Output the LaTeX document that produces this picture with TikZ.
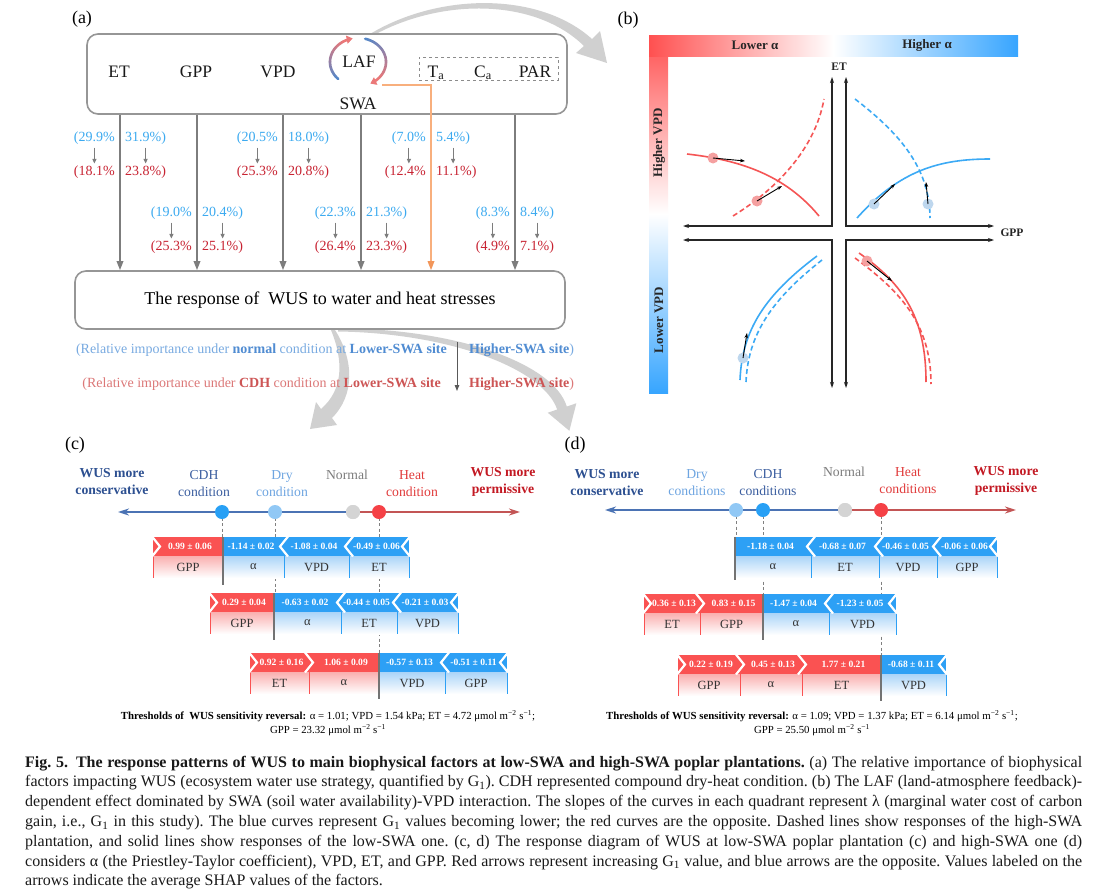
\documentclass[tikz,border=0pt]{standalone}
\usepackage{fontspec}
\setmainfont{Liberation Serif}
\usetikzlibrary{arrows.meta}
\definecolor{boxgray}{RGB}{150,150,150}
\definecolor{argray}{RGB}{125,125,125}
\definecolor{pctblue}{RGB}{60,170,240}
\definecolor{pctred}{RGB}{200,35,50}
\definecolor{legblue}{RGB}{120,170,225}
\definecolor{legblueb}{RGB}{80,140,210}
\definecolor{legred}{RGB}{220,120,120}
\definecolor{legredb}{RGB}{205,85,85}
\definecolor{orline}{RGB}{248,175,125}
\definecolor{orarrow}{RGB}{242,150,90}
\definecolor{biggray}{RGB}{208,208,208}
\definecolor{segred}{RGB}{250,82,82}
\definecolor{segblue}{RGB}{45,160,245}
\definecolor{segredl}{RGB}{250,175,175}
\definecolor{segbluel}{RGB}{170,212,248}
\definecolor{consblue}{RGB}{45,80,145}
\definecolor{cdhblue}{RGB}{60,95,160}
\definecolor{drycol}{RGB}{110,165,225}
\definecolor{normgray}{RGB}{125,125,125}
\definecolor{heatred}{RGB}{225,60,60}
\definecolor{permred}{RGB}{195,25,35}
\definecolor{axblue}{RGB}{75,115,180}
\definecolor{axred}{RGB}{195,85,85}
\definecolor{dotcdh}{RGB}{40,160,245}
\definecolor{dotdry}{RGB}{145,200,245}
\definecolor{dotnorm}{RGB}{212,212,212}
\definecolor{dotheat}{RGB}{245,65,70}
\definecolor{bred}{RGB}{245,85,85}
\definecolor{bblue}{RGB}{60,170,245}
\definecolor{bpink}{RGB}{245,160,160}
\definecolor{bltblue}{RGB}{190,215,238}
\definecolor{barred}{RGB}{255,80,80}
\definecolor{barblue}{RGB}{55,165,255}
\definecolor{lafred}{RGB}{235,120,120}
\definecolor{lafblue}{RGB}{85,135,200}

\tikzset{
  bigbox/.style={draw=boxgray, line width=1.6pt, rounded corners=11pt},
  toptxt/.style={font=\fontsize{17.5}{20}\selectfont, inner sep=0pt, text=black!90},
  plabel/.style={font=\fontsize{18}{20}\selectfont, inner sep=0pt},
  varr/.style={draw=argray, line width=1.7pt, -{Triangle[length=9pt,width=6.5pt]}},
  pct/.style={font=\fontsize{14}{16}\selectfont, inner sep=0pt},
  pb/.style={pct, text=pctblue},
  pr/.style={pct, text=pctred},
  smallarr/.style={draw=argray, line width=0.9pt, -{Triangle[length=4.5pt,width=4pt]}, shorten <=3pt, shorten >=2pt},
  legb/.style={font=\fontsize{14}{16}\selectfont, inner sep=0pt, text=legblue},
  legr/.style={font=\fontsize{14}{16}\selectfont, inner sep=0pt, text=legred},
  cond/.style={font=\fontsize{13.7}{17}\selectfont, inner sep=0pt, align=center},
  valtxt/.style={font=\bfseries\fontsize{9.6}{12}\selectfont, text=white, inner sep=0pt},
  labtxt/.style={font=\fontsize{12.5}{14}\selectfont, text=black!80, inner sep=0pt},
  chev/.style={draw=white, line width=2.2pt},
  gline/.style={draw=black!55, line width=1.1pt},
  gdash/.style={draw=black!50, line width=0.9pt, dash pattern=on 3pt off 2.5pt},
  condax/.style={line width=2pt, -{Stealth[length=11pt,width=7pt]}},
  cdot/.style={circle, inner sep=0pt, minimum size=14pt},
  bax/.style={draw=black!85, line width=1.1pt, {Stealth[length=6pt,width=4pt]}-{Stealth[length=6pt,width=4pt]}},
  bcurve/.style={line width=1.6pt},
  bdsh/.style={line width=1.6pt, dash pattern=on 5pt off 3pt},
  bdot/.style={circle, inner sep=0pt, minimum size=11pt},
  barr/.style={draw=black, line width=0.9pt, -{Stealth[length=5pt,width=3.5pt]}},
  btxt/.style={font=\bfseries\fontsize{13}{15}\selectfont, inner sep=0pt, text=black!85},
  axtxt/.style={font=\bfseries\fontsize{11.5}{13}\selectfont, inner sep=0pt, text=black!85},
  thr/.style={font=\fontsize{10.8}{13}\selectfont, inner sep=0pt, anchor=base},
  captxt/.style={font=\frenchspacing\fontsize{16}{18}\selectfont, inner sep=0pt, anchor=base west, text=black!90},
  bigarr/.style={fill=biggray, draw=none},
}

\newcommand\pctgroup[7]{%
  \node[pb, anchor=east] (#1bl) at (#2-5,#3) {#4};
  \node[pb, anchor=west] (#1br) at (#2+5,#3) {#5};
  \node[pr, anchor=east] (#1rl) at (#2-5,#3+34) {#6};
  \node[pr, anchor=west] (#1rr) at (#2+5,#3+34) {#7};
  \draw[smallarr] (#1bl.south) -- (#1bl.south |- #1rl.north);
  \draw[smallarr] (#1br.south) -- (#1br.south |- #1rr.north);
}
% #8-like shift handled by colour: blue text nudged left, red text nudged right
\newcommand\wseg[7]{%
  \fill[seg#5] (#3,#2) rectangle (#4,#2+19);
  \shade[top color=seg#5l, bottom color=white] (#3,#2+19) rectangle (#4,#2+41);
  \draw[seg#5, line width=0.9pt] (#3,#2+19) -- (#3,#2+41) (#4,#2+19) -- (#4,#2+41);
  \node[valtxt] (#1v) at ({(#3+#4)/2+\csname shift#5\endcsname},#2+9.5) {#6};
  \node[labtxt] (#1l) at ({(#3+#4)/2},#2+30) {#7};
}
\newcommand\shiftred{2}
\newcommand\shiftblue{-2.5}
\newcommand\wchevL[2]{\draw[chev] (#1+4,#2-0.5) -- (#1-4,#2+9.5) -- (#1+4,#2+19.5);}
\newcommand\wchevR[2]{\draw[chev] (#1-4,#2-0.5) -- (#1+4,#2+9.5) -- (#1-4,#2+19.5);}

\begin{document}
\begin{tikzpicture}[x=1pt,y=-1pt]
\useasboundingbox (0,0) rectangle (1108,894);
\fill[white] (0,0) rectangle (1108,894);

% ---------- big gray curved arrows ----------
\fill[bigarr] (370,34) .. controls (440,-8) and (540,-8) .. (592,39) -- (600,31) -- (607,63) -- (576,53) -- (584,46) .. controls (535,-2) and (442,-2) .. (374,35) -- cycle;
\fill[bigarr] (335,330) .. controls (354,360) and (355,395) .. (332,418) -- (337,425) -- (310,429) -- (316,402) -- (321,409) .. controls (343,390) and (344,362) .. (331,330) -- cycle;
\fill[bigarr] (338,328.5) .. controls (452,328) and (553,362) .. (566.8,406.5) -- (576.3,403.3) -- (569.4,430.8) -- (547.7,412.7) -- (557.2,409.5) .. controls (543,368) and (448,333) .. (338,331.5) -- cycle;

% ---------- panel (a) ----------
\node[plabel] (la) at (82,19) {(a)};
\node[bigbox, minimum width=480pt, minimum height=80pt, inner sep=0pt] (topbox) at (327,74) {};
\node[toptxt, anchor=base] (tET) at (119,77) {ET};
\node[toptxt, anchor=base] (tGPP) at (196,77) {GPP};
\node[toptxt, anchor=base] (tVPD) at (278,77) {VPD};
\node[toptxt, anchor=base] (tLAF) at (359,67) {LAF};
\node[toptxt, anchor=base] (tSWA) at (358,109) {SWA};
\node[draw=black!45, dashed, line width=0.8pt, minimum width=139pt, minimum height=23pt, inner sep=0pt] (envbox) at (488.5,68.5) {};
\node[toptxt, anchor=base] (tTa) at (436,77) {T\textsubscript{a}};
\node[toptxt, anchor=base] (tCa) at (483,77) {C\textsubscript{a}};
\node[toptxt, anchor=base] (tPAR) at (535,77) {PAR};

% LAF cycle
\foreach \k in {0,...,13}{
  \pgfmathsetmacro\aa{225-110*\k/14}
  \pgfmathsetmacro\bb{225-110*(\k+1)/14}
  \pgfmathsetmacro\pp{100*\k/13}
  \draw[lafred!\pp!lafblue, line width=2.6pt, line cap=round] plot[domain=\aa:\bb, samples=4] ({358+28*cos(\x)},{62-24*sin(\x)});
}
\draw[lafred, line width=2.6pt, -{Triangle[length=6pt,width=8pt]}] plot[domain=115:101, samples=4] ({358+28*cos(\x)},{62-24*sin(\x)});
\foreach \k in {0,...,13}{
  \pgfmathsetmacro\aa{75-125*\k/14}
  \pgfmathsetmacro\bb{75-125*(\k+1)/14}
  \pgfmathsetmacro\pp{100*\k/13}
  \draw[lafred!\pp!lafblue, line width=2.6pt, line cap=round] plot[domain=\aa:\bb, samples=4] ({358+28*cos(\x)},{62-24*sin(\x)});
}
\draw[lafred, line width=2.6pt, -{Triangle[length=6pt,width=8pt]}] plot[domain=-50:-64, samples=4] ({358+28*cos(\x)},{62-24*sin(\x)});

\node[bigbox, minimum width=490pt, minimum height=58pt, inner sep=0pt, font=\fontsize{18}{20}\selectfont] (resp) at (320,300) {The response of\ \ WUS to water and heat stresses};

\coordinate (vx1) at (120,0);
\coordinate (vx2) at (197,0);
\coordinate (vx3) at (283,0);
\coordinate (vx4) at (361,0);
\coordinate (vx5) at (515,0);
\foreach \v in {vx1,vx2,vx3,vx4,vx5}{
  \draw[varr] (topbox.south -| \v) -- (resp.north -| \v);
}
\coordinate (swaout) at (382,85);
\coordinate (ox) at (431,0);
\draw[draw=orline, line width=1.6pt, -{Triangle[length=9pt,width=6.5pt,color=orarrow]}] (swaout) -- (swaout -| ox) -- (resp.north -| ox);

\pctgroup{ga}{120}{138}{(29.9\%}{31.9\%)}{(18.1\%}{23.8\%)}
\pctgroup{gc}{283}{138}{(20.5\%}{18.0\%)}{(25.3\%}{20.8\%)}
\pctgroup{ge}{431}{138}{(7.0\%}{5.4\%)}{(12.4\%}{11.1\%)}
\pctgroup{gb}{197}{213}{(19.0\%}{20.4\%)}{(25.3\%}{25.1\%)}
\pctgroup{gd}{361}{213}{(22.3\%}{21.3\%)}{(26.4\%}{23.3\%)}
\pctgroup{gf}{515}{213}{(8.3\%}{8.4\%)}{(4.9\%}{7.1\%)}

\node[legb, anchor=east] (lgb1) at (447,350) {(Relative importance under \textbf{\color{legblueb}normal} condition at \textbf{\color{legblueb}Lower-SWA site}};
\node[legb, anchor=west] (lgb2) at (469,350) {\textbf{\color{legblueb}Higher-SWA site})};
\node[legr, anchor=east] (lgr1) at (441,384) {(Relative importance under \textbf{\color{legredb}CDH} condition at \textbf{\color{legredb}Lower-SWA site}};
\node[legr, anchor=west] (lgr2) at (469,384) {\textbf{\color{legredb}Higher-SWA site})};
\coordinate (lgtop) at (457,342);
\coordinate (lgbot) at (457,391);
\draw[draw=black!65, line width=1pt, -{Triangle[length=6pt,width=4.5pt]}] (lgtop) -- (lgbot);

% ---------- panel (b) ----------
\node[plabel] (lb) at (628,20) {(b)};
\shade[top color=barred, bottom color=barblue, middle color=white] (649,35) rectangle (668,393);
\shade[left color=barred, right color=barblue, middle color=white] (649,35) rectangle (1018,56);
\node[btxt] (lowa) at (755,45) {Lower α};
\node[btxt] (higha) at (927,45) {Higher α};
\node[btxt, rotate=90] (hvpd) at (659,143) {Higher VPD};
\node[btxt, rotate=90] (lvpd) at (659,320) {Lower VPD};

\coordinate (q1a) at (832,77); \coordinate (q1b) at (832,226); \coordinate (q1c) at (683,226);
\coordinate (q2a) at (846,77); \coordinate (q2b) at (846,226); \coordinate (q2c) at (994,226);
\coordinate (q3a) at (683,240); \coordinate (q3b) at (832,240); \coordinate (q3c) at (832,388);
\coordinate (q4a) at (994,240); \coordinate (q4b) at (846,240); \coordinate (q4c) at (846,388);
\draw[bax] (q1a) -- (q1b) -- (q1c);
\draw[bax] (q2a) -- (q2b) -- (q2c);
\draw[bax] (q3a) -- (q3b) -- (q3c);
\draw[bax] (q4a) -- (q4b) -- (q4c);
\node[axtxt] (etax) at (839,67) {ET};
\node[axtxt] (gppax) at (1012,233) {GPP};

\draw[bcurve, bred] (687,154) .. controls (740,160) and (785,175) .. (819,216);
\draw[bdsh, bred] (733,216) .. controls (775,190) and (815,150) .. (824,99);
\draw[bdsh, bblue] (855,99) .. controls (895,130) and (930,165) .. (930,218);
\draw[bcurve, bblue] (857,218) .. controls (900,170) and (940,159) .. (990,159);
\draw[bcurve, bblue] (740,380) .. controls (742,330) and (765,295) .. (817,256);
\draw[bdsh, bblue] (746,382) .. controls (748,335) and (771,300) .. (822,260);
\draw[bcurve, bred] (859,253) .. controls (905,285) and (926,320) .. (926,382);
\draw[bdsh, bred] (855,258) .. controls (898,290) and (931,322) .. (931,384);

\node[bdot, fill=bpink] (bd1) at (713,158) {};
\node[bdot, fill=bpink] (bd2) at (757,201) {};
\node[bdot, fill=bltblue] (bd3) at (874,204) {};
\node[bdot, fill=bltblue] (bd4) at (928,204) {};
\node[bdot, fill=bltblue] (bd5) at (743,358) {};
\node[bdot, fill=bpink] (bd6) at (867,261) {};
\coordinate (be1) at (745,161);
\coordinate (be2) at (782,186);
\coordinate (be3) at (895,184);
\coordinate (be4) at (926,182);
\coordinate (be5) at (747,333);
\coordinate (be6) at (892,281);
\draw[barr] (bd1.center) -- (be1);
\draw[barr] (bd2.center) -- (be2);
\draw[barr] (bd3.center) -- (be3);
\draw[barr] (bd4.center) -- (be4);
\draw[barr] (bd5.center) -- (be5);
\draw[barr] (bd6.center) -- (be6);

% ---------- panel (c) ----------
\node[plabel] (lc) at (75,445) {(c)};
\node[cond, font=\bfseries\fontsize{13.7}{17}\selectfont, text=consblue] (consc) at (112,482) {WUS more\\conservative};
\node[cond, text=cdhblue] (cdhc) at (204,483.5) {CDH\\condition};
\node[cond, text=drycol] (dryc) at (282,483.5) {Dry\\condition};
\node[cond, text=normgray] (normc) at (347,475) {Normal};
\node[cond, text=heatred] (heatc) at (412,483.5) {Heat\\condition};
\node[cond, font=\bfseries\fontsize{13.7}{17}\selectfont, text=permred] (permc) at (503,481.5) {WUS more\\permissive};

\coordinate (cL) at (118,512);
\coordinate (cR) at (520,512);
\draw[gdash] (222,512) -- (222,537);
\draw[gdash] (275,512) -- (275,593);
\draw[gdash] (379,512) -- (379,653);

\wseg{c1a}{537}{153}{223}{red}{0.99 ± 0.06}{GPP}
\wseg{c1b}{537}{223}{284}{blue}{-1.14 ± 0.02}{α}
\wseg{c1c}{537}{284}{349}{blue}{-1.08 ± 0.04}{VPD}
\wseg{c1d}{537}{349}{409}{blue}{-0.49 ± 0.06}{ET}
\wchevR{156}{537}\wchevL{284}{537}\wchevL{349}{537}\wchevL{406}{537}
\draw[gline] (223,537) -- (223,585);

\wseg{c2a}{593}{210}{274}{red}{0.29 ± 0.04}{GPP}
\wseg{c2b}{593}{274}{341}{blue}{-0.63 ± 0.02}{α}
\wseg{c2c}{593}{341}{397}{blue}{-0.44 ± 0.05}{ET}
\wseg{c2d}{593}{397}{458}{blue}{-0.21 ± 0.03}{VPD}
\wchevR{213}{593}\wchevL{341}{593}\wchevL{397}{593}\wchevL{455}{593}
\draw[gline] (274,593) -- (274,640);

\wseg{c3a}{653}{250}{309}{red}{0.92 ± 0.16}{ET}
\wseg{c3b}{653}{309}{379}{red}{1.06 ± 0.09}{α}
\wseg{c3c}{653}{379}{445}{blue}{-0.57 ± 0.13}{VPD}
\wseg{c3d}{653}{445}{507}{blue}{-0.51 ± 0.11}{GPP}
\wchevR{253}{653}\wchevR{309}{653}\wchevL{445}{653}\wchevL{504}{653}
\draw[gline] (379,653) -- (379,699);

\node[cdot, fill=dotnorm] (nc) at (353,512) {};
\draw[condax, axblue] (nc) -- (cL);
\draw[condax, axred] (nc) -- (cR);
\node[cdot, fill=dotcdh] (cdc) at (222,512) {};
\node[cdot, fill=dotdry] (dc) at (275,512) {};
\node[cdot, fill=dotnorm] (nc2) at (353,512) {};
\node[cdot, fill=dotheat] (hc) at (379,512) {};

\node[thr] (thc1) at (328,719) {\textbf{Thresholds of\ \ WUS sensitivity reversal:} α = 1.01; VPD = 1.54 kPa; ET = 4.72 μmol m\textsuperscript{−2} s\textsuperscript{−1};};
\node[thr] (thc2) at (328,733) {GPP = 23.32 μmol m\textsuperscript{−2} s\textsuperscript{−1}};

% ---------- panel (d) ----------
\node[plabel] (ld) at (575,445) {(d)};
\node[cond, font=\bfseries\fontsize{13.7}{17}\selectfont, text=consblue] (consd) at (607,483) {WUS more\\conservative};
\node[cond, text=drycol] (dryd) at (697,483) {Dry\\conditions};
\node[cond, text=cdhblue] (cdhd) at (768,482.5) {CDH\\conditions};
\node[cond, text=normgray] (normd) at (844,472) {Normal};
\node[cond, text=heatred] (heatd) at (908,481) {Heat\\conditions};
\node[cond, font=\bfseries\fontsize{13.7}{17}\selectfont, text=permred] (permd) at (1006,481) {WUS more\\permissive};

\coordinate (dL) at (605,510);
\coordinate (dR) at (1016,510);
\draw[gdash] (736,510) -- (736,537);
\draw[gdash] (763,510) -- (763,594);
\draw[gdash] (881,510) -- (881,655);

\wseg{d1a}{537}{735}{811}{blue}{-1.18 ± 0.04}{α}
\wseg{d1b}{537}{811}{879}{blue}{-0.68 ± 0.07}{ET}
\wseg{d1c}{537}{879}{937}{blue}{-0.46 ± 0.05}{VPD}
\wseg{d1d}{537}{937}{997}{blue}{-0.06 ± 0.06}{GPP}
\wchevL{811}{537}\wchevL{879}{537}\wchevL{937}{537}\wchevL{994}{537}
\draw[gline] (735,537) -- (735,580);

\wseg{d2a}{594}{644}{700}{red}{0.36 ± 0.13}{ET}
\wseg{d2b}{594}{700}{763}{red}{0.83 ± 0.15}{GPP}
\wseg{d2c}{594}{763}{829}{blue}{-1.47 ± 0.04}{α}
\wseg{d2d}{594}{829}{896}{blue}{-1.23 ± 0.05}{VPD}
\wchevR{647}{594}\wchevR{700}{594}\wchevL{829}{594}\wchevL{893}{594}
\draw[gline] (763,594) -- (763,640);

\wseg{d3a}{655}{678}{740}{red}{0.22 ± 0.19}{GPP}
\wseg{d3b}{655}{740}{802}{red}{0.45 ± 0.13}{α}
\wseg{d3c}{655}{802}{881}{red}{1.77 ± 0.21}{ET}
\wseg{d3d}{655}{881}{946}{blue}{-0.68 ± 0.11}{VPD}
\wchevR{681}{655}\wchevR{740}{655}\wchevR{802}{655}\wchevL{943}{655}
\draw[gline] (881,655) -- (881,701);

\node[cdot, fill=dotnorm] (nd) at (845,510) {};
\draw[condax, axblue] (nd) -- (dL);
\draw[condax, axred] (nd) -- (dR);
\node[cdot, fill=dotdry] (dd) at (736,510) {};
\node[cdot, fill=dotcdh] (cdd) at (763,510) {};
\node[cdot, fill=dotnorm] (nd2) at (845,510) {};
\node[cdot, fill=dotheat] (hd) at (881,510) {};

\node[thr] (thd1) at (812,719) {\textbf{Thresholds of WUS sensitivity reversal:} α = 1.09; VPD = 1.37 kPa; ET = 6.14 μmol m\textsuperscript{−2} s\textsuperscript{−1};};
\node[thr] (thd2) at (812,733) {GPP = 25.50 μmol m\textsuperscript{−2} s\textsuperscript{−1}};

% ---------- caption ----------
\node[captxt] (cap1) at (25,767) {\makebox[1057pt][s]{\textbf{Fig. 5.\enspace The response patterns of WUS to main biophysical factors at low-SWA and high-SWA poplar plantations.} (a) The relative importance of biophysical}};
\node[captxt] (cap2) at (25,786.8) {\makebox[1057pt][s]{factors impacting WUS (ecosystem water use strategy, quantified by G\textsubscript{1}). CDH represented compound dry-heat condition. (b) The LAF (land-atmosphere feedback)-}};
\node[captxt] (cap3) at (25,806.6) {\makebox[1057pt][s]{dependent effect dominated by SWA (soil water availability)-VPD interaction. The slopes of the curves in each quadrant represent λ (marginal water cost of carbon}};
\node[captxt] (cap4) at (25,826.4) {\makebox[1057pt][s]{gain, i.e., G\textsubscript{1} in this study). The blue curves represent G\textsubscript{1} values becoming lower; the red curves are the opposite. Dashed lines show responses of the high-SWA}};
\node[captxt] (cap5) at (25,846.2) {\makebox[1057pt][s]{plantation, and solid lines show responses of the low-SWA one. (c, d) The response diagram of WUS at low-SWA poplar plantation (c) and high-SWA one (d)}};
\node[captxt] (cap6) at (25,866) {\makebox[1057pt][s]{considers α (the Priestley-Taylor coefficient), VPD, ET, and GPP. Red arrows represent increasing G\textsubscript{1} value, and blue arrows are the opposite. Values labeled on the}};
\node[captxt] (cap7) at (25,885.8) {arrows indicate the average SHAP values of the factors.};
\end{tikzpicture}
\end{document}
